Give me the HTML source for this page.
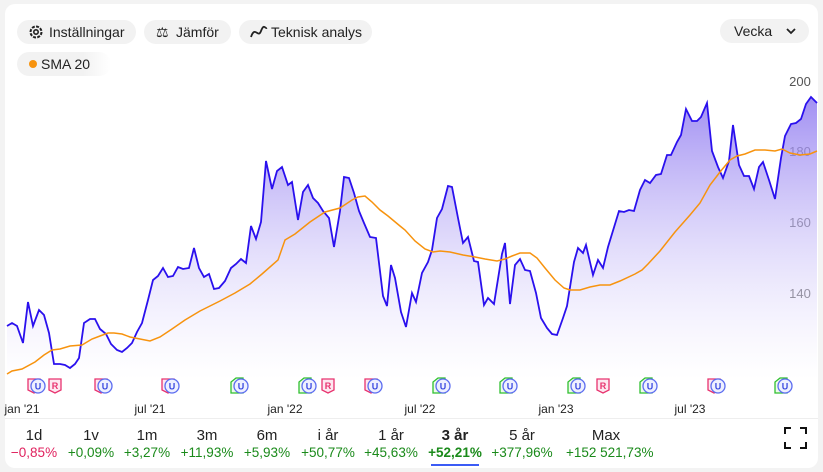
<!DOCTYPE html>
<html><head><meta charset="utf-8"><style>
body{margin:0;background:#f3f3f3;font-family:"Liberation Sans",sans-serif;}
.card{position:absolute;left:5px;top:4px;width:813px;height:464px;background:#fff;border-radius:10px;overflow:hidden}
.pill{position:absolute;height:24px;border-radius:12px;background:#f2f2f2;font-size:14px;color:#222;line-height:24px;font-weight:500}
.per{position:absolute;top:427px;width:80px;text-align:center;font-size:15px;color:#222;white-space:nowrap}
.per b{font-weight:normal}
.per .v{display:block;margin-top:1px;font-size:13.5px;color:#1a8a1a}
</style></head><body>
<div class="card"></div>
<div class="pill" style="left:17px;top:20px;width:119px;"><svg width="16" height="16" style="position:absolute;left:11px;top:4px" viewBox="0 0 16 16"><circle cx="8" cy="8" r="5.5" fill="none" stroke="#222" stroke-width="2" stroke-dasharray="3 1.3"/><circle cx="8" cy="8" r="2.2" fill="none" stroke="#222" stroke-width="1.6"/></svg><span style="position:absolute;left:32px">Inställningar</span></div>
<div class="pill" style="left:144px;top:20px;width:87px;"><span style="position:absolute;left:12px;font-size:14px">⚖</span><span style="position:absolute;left:32px">Jämför</span></div>
<div class="pill" style="left:239px;top:20px;width:133px;"><svg width="18" height="14" style="position:absolute;left:11px;top:5px"><path d="M1 12 C5 0 8 14 11 6 S15 4 17 3" fill="none" stroke="#222" stroke-width="1.8"/></svg><span style="position:absolute;left:32px">Teknisk analys</span></div>
<div class="pill" style="left:17px;top:52px;width:94px;background:linear-gradient(90deg,#f2f2f2 70%,#fff)"><span style="position:absolute;left:12px;top:8px;width:8px;height:8px;border-radius:4px;background:#f7930e"></span><span style="position:absolute;left:24px">SMA 20</span></div>
<div class="pill" style="left:720px;top:19px;width:89px;"><span style="position:absolute;left:14px">Vecka</span><svg width="10" height="8" style="position:absolute;left:66px;top:9px"><path d="M1 1 L5 5 L9 1" fill="none" stroke="#222" stroke-width="1.8"/></svg></div>
<svg width="823" height="472" style="position:absolute;left:0;top:0">
<defs><linearGradient id="g" gradientUnits="userSpaceOnUse" x1="0" y1="95" x2="0" y2="380"><stop offset="0" stop-color="#8f7af0" stop-opacity="0.85"/><stop offset="1" stop-color="#fff" stop-opacity="0.3"/></linearGradient>
<g id="pu" font-size="9" font-weight="bold" text-anchor="middle"><path d="M-10,-7 h12 v11 l-6,3 l-6,-3z" fill="#fde8f0" stroke="#e8336f" stroke-width="1.3"/><circle cx="0" cy="0" r="7" fill="#eef0ff" stroke="#5b6cf0" stroke-width="1.3"/><text x="0" y="3.5" fill="#3a4ae0">U</text></g>
<g id="gu0" font-size="9" font-weight="bold" text-anchor="middle"><path d="M-10,7 v-11 l5,-4 h7 v15z" fill="#edfbea" stroke="#2fbf2f" stroke-width="1.3"/><circle cx="0" cy="0" r="7" fill="#eef0ff" stroke="#5b6cf0" stroke-width="1.3"/><text x="0" y="3.5" fill="#3a4ae0">U</text></g>
<g id="r0" font-size="9" font-weight="bold" text-anchor="middle"><path d="M-6,-7 h12 v11 l-6,3 l-6,-3z" fill="#fde8f0" stroke="#e8336f" stroke-width="1.3"/><text x="0" y="3" fill="#e8336f">R</text></g>
</defs>
<g font-size="13" fill="#555" text-anchor="middle"><text x="800" y="86">200</text><text x="800" y="156">180</text><text x="800" y="227">160</text><text x="800" y="298">140</text></g>
<path d="M7,326 L12,323 17,326 23,343 28,302 33,326 39,310 44,315 49,333 54,364 60,364 65,365 70,368 75,364 79,358 84,323 90,319 95,319 100,329 106,334 111,344 117,350 122,352 127,348 132,343 137,332 142,323 148,300 153,280 158,276 163,268 168,277 173,276 178,267 183,269 189,268 194,248 199,268 204,277 209,274 214,289 219,288 225,281 231,268 236,264 241,259 246,263 251,226 256,239 261,222 266,161 272,189 277,171 282,167 288,185 292,182 298,220 303,192 308,185 313,198 318,203 323,211 329,218 334,247 340,211 344,177 349,178 354,193 359,211 364,223 370,237 376,238 383,296 387,306 391,265 395,278 401,312 406,327 412,293 416,302 422,273 428,262 432,250 437,218 442,209 448,186 452,187 458,218 463,243 468,237 474,261 478,262 484,305 488,298 494,304 502,254 505,243 510,304 515,265 520,259 525,270 530,271 536,293 541,318 547,328 552,334 557,335 563,318 567,306 574,262 578,248 583,253 586,245 593,275 598,260 603,268 608,247 619,211 624,212 629,210 634,211 640,190 645,180 650,183 656,175 661,174 667,155 671,155 677,142 681,135 686,109 692,121 697,121 701,117 707,103 712,151 718,167 723,178 729,161 733,125 739,165 744,176 749,176 754,189 759,167 763,162 769,180 775,199 781,158 785,136 791,124 796,123 801,119 806,104 811,97 817,103 L817,378 L7,378 Z" fill="url(#g)"/>
<path d="M7,326 L12,323 17,326 23,343 28,302 33,326 39,310 44,315 49,333 54,364 60,364 65,365 70,368 75,364 79,358 84,323 90,319 95,319 100,329 106,334 111,344 117,350 122,352 127,348 132,343 137,332 142,323 148,300 153,280 158,276 163,268 168,277 173,276 178,267 183,269 189,268 194,248 199,268 204,277 209,274 214,289 219,288 225,281 231,268 236,264 241,259 246,263 251,226 256,239 261,222 266,161 272,189 277,171 282,167 288,185 292,182 298,220 303,192 308,185 313,198 318,203 323,211 329,218 334,247 340,211 344,177 349,178 354,193 359,211 364,223 370,237 376,238 383,296 387,306 391,265 395,278 401,312 406,327 412,293 416,302 422,273 428,262 432,250 437,218 442,209 448,186 452,187 458,218 463,243 468,237 474,261 478,262 484,305 488,298 494,304 502,254 505,243 510,304 515,265 520,259 525,270 530,271 536,293 541,318 547,328 552,334 557,335 563,318 567,306 574,262 578,248 583,253 586,245 593,275 598,260 603,268 608,247 619,211 624,212 629,210 634,211 640,190 645,180 650,183 656,175 661,174 667,155 671,155 677,142 681,135 686,109 692,121 697,121 701,117 707,103 712,151 718,167 723,178 729,161 733,125 739,165 744,176 749,176 754,189 759,167 763,162 769,180 775,199 781,158 785,136 791,124 796,123 801,119 806,104 811,97 817,103" fill="none" stroke="#2a10ee" stroke-width="1.8"/>
<path d="M7,374 L12,371 22,369 35,362 44,355 52,350 60,349 70,346 82,345 92,339 100,336 108,333 114,333 122,334 130,337 140,339 150,341 160,337 172,329 185,320 200,311 220,301 235,293 250,284 262,274 278,260 285,240 295,234 310,222 325,212 340,208 352,200 358,197 365,196 372,202 380,210 388,216 400,226 405,230 415,241 425,249 433,252 440,251 450,252 463,255 475,257 485,259 497,261 505,259 512,256 520,253 530,253 537,258 545,268 555,280 564,288 570,290 580,290 590,287 600,285 610,285 620,281 635,274 642,270 648,264 660,251 675,232 690,215 700,203 710,185 720,172 730,160 737,156 745,154 755,150 765,150 775,151 782,149 790,153 800,155 810,154 817,151" fill="none" stroke="#f7930e" stroke-width="1.5"/>
<use href="#pu" x="38" y="386"/><use href="#pu" x="105" y="386"/><use href="#pu" x="172" y="386"/><use href="#pu" x="375" y="386"/><use href="#pu" x="718" y="386"/>
<use href="#gu0" x="241" y="386"/><use href="#gu0" x="309" y="386"/><use href="#gu0" x="443" y="386"/><use href="#gu0" x="510" y="386"/><use href="#gu0" x="578" y="386"/><use href="#gu0" x="650" y="386"/><use href="#gu0" x="785" y="386"/>
<use href="#r0" x="55" y="386"/><use href="#r0" x="328" y="386"/><use href="#r0" x="603" y="386"/>
<g font-size="12" fill="#222" text-anchor="middle"><text x="22" y="413">jan '21</text><text x="150" y="413">jul '21</text><text x="285" y="413">jan '22</text><text x="420" y="413">jul '22</text><text x="556" y="413">jan '23</text><text x="690" y="413">jul '23</text></g>
<line x1="5" y1="418.5" x2="818" y2="418.5" stroke="#eee"/>
<rect x="431" y="464" width="48" height="2" fill="#3b5bf5"/>
<path d="M785,434 v-6 h6 M800,428 h6 v6 M806,442 v6 h-6 M791,448 h-6 v-6" fill="none" stroke="#111" stroke-width="2"/>
</svg>
<div class="per" style="left:-6px"><b>1d</b><span class="v" style="color:#e0215e">−0,85%</span></div>
<div class="per" style="left:51px"><b>1v</b><span class="v">+0,09%</span></div>
<div class="per" style="left:107px"><b>1m</b><span class="v">+3,27%</span></div>
<div class="per" style="left:167px"><b>3m</b><span class="v">+11,93%</span></div>
<div class="per" style="left:227px"><b>6m</b><span class="v">+5,93%</span></div>
<div class="per" style="left:288px"><b>i år</b><span class="v">+50,77%</span></div>
<div class="per" style="left:351px"><b>1 år</b><span class="v">+45,63%</span></div>
<div class="per" style="left:415px"><b style="font-weight:bold">3 år</b><span class="v" style="font-weight:bold">+52,21%</span></div>
<div class="per" style="left:482px"><b>5 år</b><span class="v">+377,96%</span></div>
<div class="per" style="left:566px"><b>Max</b><span class="v">+152 521,73%</span></div>
</body></html>
